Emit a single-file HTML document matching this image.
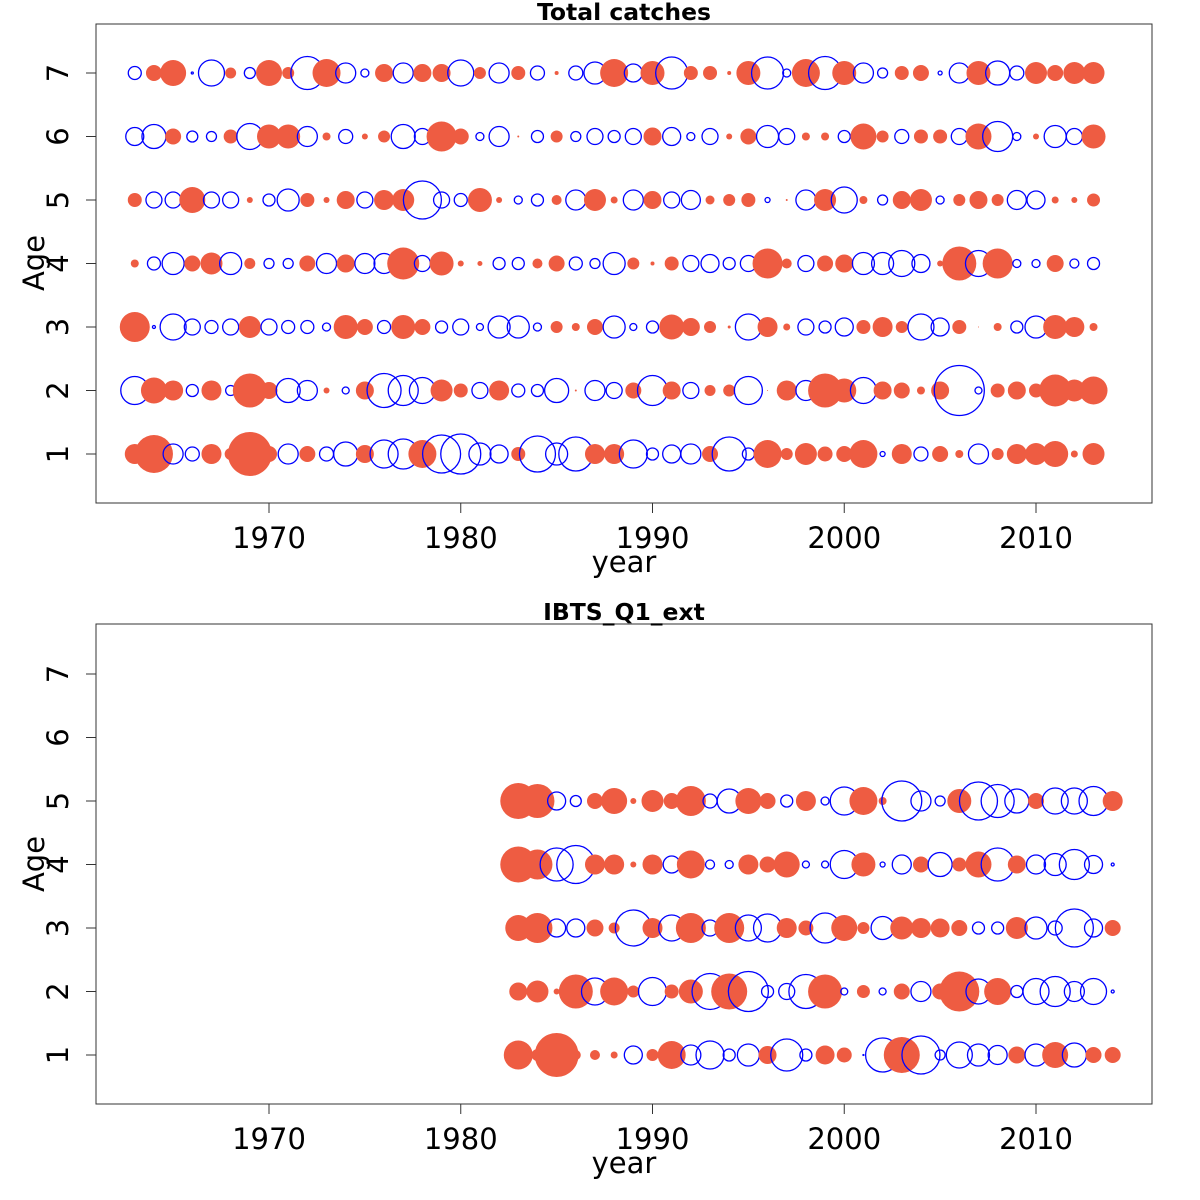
<!DOCTYPE html>
<html><head><meta charset="utf-8"><style>
html,body{margin:0;padding:0;background:#fff;}
svg{display:block;font-family:"DejaVu Sans","Liberation Sans",sans-serif;}
</style></head><body>
<svg id="chart" width="1200" height="1200" viewBox="0 0 1200 1200" xmlns="http://www.w3.org/2000/svg"></svg>
<script>
// ---- data (signed residuals; + = red filled, - = blue open; |v| = radius in px) ----
const yearsTop = Array.from({length:51},(_,i)=>1963+i);
const xTicks = [1970,1980,1990,2000,2010];
const ageTicks = [1,2,3,4,5,6,7];
const catchAge7 = [-6.5,8,13,-1,-13,5.5,-5.5,13,6,-16.5,14,-10,-4,9,-10,9,9,-13,6,-10,7,-7,2,-7,-11,14,-9,12,-16,7,7,2,12,-16,-4,14,-16.5,12,-10,-5,7,8,-2,-10,12,-12,-7,11,8,11,11];
const catchAge6 = [-9,-12,8,-5.5,-5,7,-13,12,12,-10,4,-7,3,6,-12,-8,15,8,-4,-10,1,-6,6,-5,-8,-6,-8,9,-9,-4,-8,3,8,-11,-8,4,4,-6,13,6,-7,7,7,-8,13,-15,-4,3,-11,-8,12];
const catchAge5 = [7,-8,-8,13,-8,-8,3,-6,-11,7,3,9,-8,10,11,-19,-8,-6.5,12,3,-4,-6,5,-10,11,3.5,-10,9,-8,-9.5,4.5,6,7,-2.5,1,-10,11,-13,4,-5,9,11,-4,6,9,6,-9.5,-9,3.5,3,6.5];
const catchAge4 = [4,-6.5,-11,8,11,-11,5.5,-5,-5,8,-10,9,-10,-10,16,-8,12,3,2.5,-6,-6,5,8,-6.5,-5,-11,6,2,7,-8,-9,-6,-8,15,5,-8,8,9,-11,-11,-13,-9,3,17,-13,15,-4,-4,8.5,-4.5,-6];
const catchAge3 = [15,-1.5,-13,-8,-6.5,-8,11,-8,-6.5,-6.5,-4,12,8,-6.5,12,8,-6,-8,-3.5,-11,-11,-4,6,4,8,-11,-3.5,-6,12.5,9,6,1.5,-13,10,3.5,-8,-6,-9,7,10,6,-13,-9,7,0.5,4,-6,-11,12,10,4];
const catchAge2 = [-14,13,10,-6,10,-5,17,8.5,-12,-10,3,-3.5,9,-17,-15,-13,11,7,-8,10,-6.5,-6,-12,1,-10,-8,8,-15,9,-8,5.5,6,-14,0.5,10,-10,17,12,-13,9,8,4,9,-25,-3.5,7,9,7,16,11,14];
const catchAge1 = [10,19,-10,-7,10,6,22,8,-10,8,-7,-12,9,-14,-15,14,-19,-20,-11,-9,7,-18,-11,-17,10,10,-14,-6,-9,-10,8,-17,-6,14,6,11,7.5,8,14,-2.5,10,-7,8,4,-10,6,10,11,13,3.5,11];
const yearsSurvey = Array.from({length:32},(_,i)=>1983+i);
const ibtsAge5 = [18,17,-9,-5.5,8,13,3,11,8,15,-7,-12,13,8,-6,10,-4,-14,14,4,-20,-10,-5,12,-19,-16.5,-12,8,-13,-13,-14.5,10];
const ibtsAge4 = [18,15,-16.5,-19,10,10,3,10,-8.5,14,-4.5,-4,10,8,13,-3.5,-3.5,-14,12,-2.5,-9.5,8,-12,7,13,-16.5,9,-9.5,-11,-15,-9,-1.5];
const ibtsAge3 = [13,15,-9,-9,8.5,5.5,-18,10,-13,15,-8,15,-13,-14,10,7.5,-15,13,6,-11.5,11.5,10,9.5,8,-6,-6,11,-11,-7,-19,-9,8];
const ibtsAge2 = [9,11,3,17,-13.5,14,6,-14,7,12,-18,18,-20,-6,-8,-17,17,-3.5,6.5,-3.5,8,-10,8,20,-12.5,13.5,-6,-13,-15,-10,-13,-1.5];
const ibtsAge1 = [14.5,6,22,5,5,3.5,-9,6,14,-10,-14,-6,-11,9,-16,-6,9.5,7.5,-0.5,-17,18,-19,-5,-13,-11,-9.5,8.5,-11,13,-12,8,8];

const NS='http://www.w3.org/2000/svg';
const svg=document.getElementById('chart');
function mk(tag,attrs,parent){const e=document.createElementNS(NS,tag);for(const k in attrs)e.setAttribute(k,attrs[k]);(parent||svg).appendChild(e);return e;}
const xScale = y => 269 + (y-1970)*19.175;
const RED='#EE5C42', BLUE='#0000FF';

function panel(top, bottom, title, slug, years, series, ages){
  const g=mk('g',{});
  
  
  const yAge = a => (bottom-49) - (a-1)*63.5;
  const box=mk('rect',{x:96,y:top,width:1056,height:bottom-top,fill:'none',stroke:'#333','stroke-width':1},g);
  
  
  const t=mk('text',{x:624,y:top-4,'text-anchor':'middle','font-size':23.5,'font-weight':'bold'},g);
  t.textContent=title;
  
  
  xTicks.forEach(v=>{
    const tk=mk('line',{x1:xScale(v),x2:xScale(v),y1:bottom,y2:bottom+10,stroke:'#333'},g);
    
    
    const tl=mk('text',{x:xScale(v),y:bottom+45,'text-anchor':'middle','font-size':29},g);
    tl.textContent=v;
    
    
  });
  ageTicks.forEach(a=>{
    const tk=mk('line',{x1:86,x2:96,y1:yAge(a),y2:yAge(a),stroke:'#333'},g);
    
    
    const tl=mk('text',{x:0,y:0,'text-anchor':'middle','font-size':29,transform:`translate(68,${yAge(a)}) rotate(-90)`},g);
    tl.textContent=a;
    
    
  });
  const xl=mk('text',{x:624,y:bottom+69,'text-anchor':'middle','font-size':29},g);
  xl.textContent='year';
  
  
  const yl=mk('text',{x:0,y:0,'text-anchor':'middle','font-size':29,transform:`translate(44,${bottom-240}) rotate(-90)`},g);
  yl.textContent='Age';
  
  
  series.forEach((vals,k)=>{
    const a=ages[k];
    vals.forEach((v,i)=>{
      const r=Math.abs(v);
      if(r<=0) return;
      const c=mk('circle',{cx:xScale(years[i]),cy:yAge(a),r:r,
        fill:v>0?RED:'none',stroke:v>0?'none':BLUE,'stroke-width':1.3},g);
      
      
    });
  });
}
panel(24,503,'Total catches','total-catches',yearsTop,
  [catchAge1,catchAge2,catchAge3,catchAge4,catchAge5,catchAge6,catchAge7],[1,2,3,4,5,6,7]);
panel(624,1104,'IBTS_Q1_ext','ibts-q1-ext',yearsSurvey,
  [ibtsAge1,ibtsAge2,ibtsAge3,ibtsAge4,ibtsAge5],[1,2,3,4,5]);
</script>
</body></html>
